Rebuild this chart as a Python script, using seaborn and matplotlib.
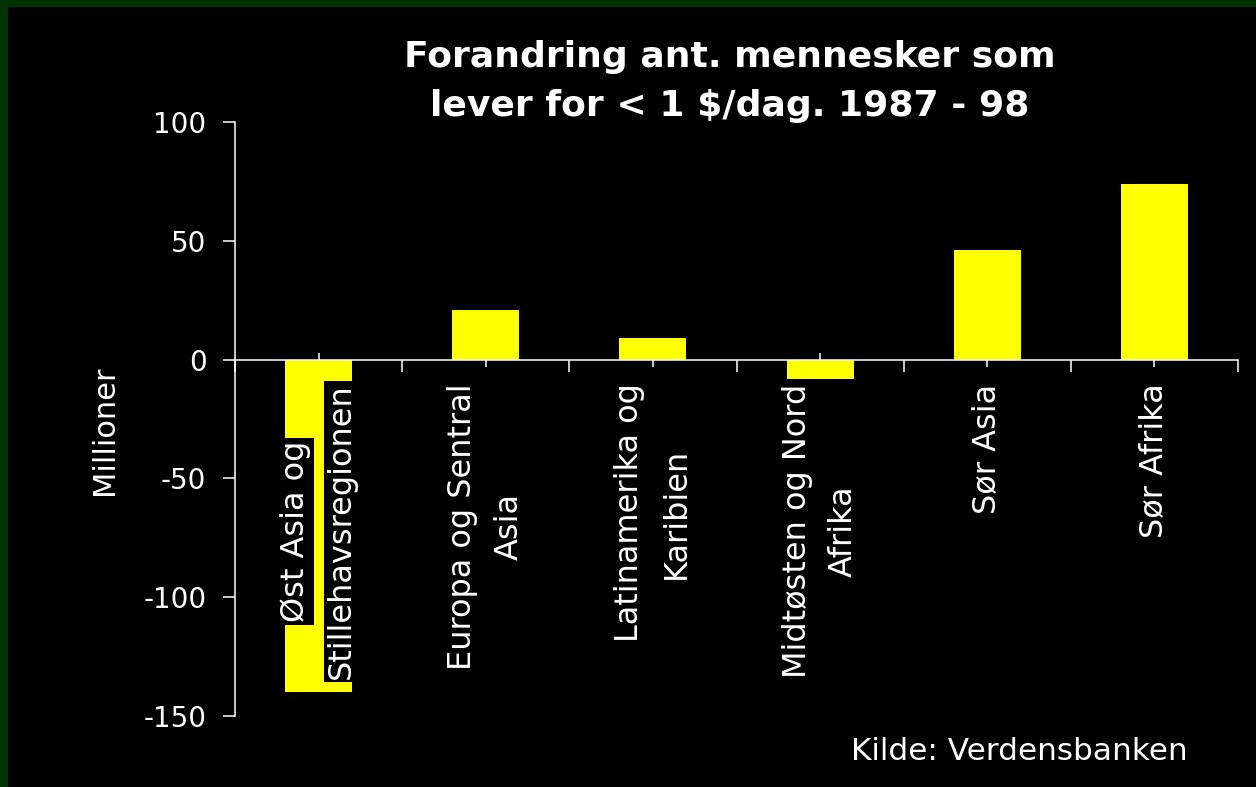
import numpy as np
import pandas as pd
import seaborn as sns
import matplotlib.pyplot as plt
from matplotlib.patches import Rectangle

# data
regions = ["Øst Asia og Stillehavsregionen", "Europa og Sentral Asia", "Latinamerika og Karibien",
           "Midtøsten og Nord Afrika", "Sør Asia", "Sør Afrika"]
label_lines = [["Øst Asia og", "Stillehavsregionen"], ["Europa og Sentral", "Asia"],
               ["Latinamerika og", "Karibien"], ["Midtøsten og Nord", "Afrika"],
               ["Sør Asia"], ["Sør Afrika"]]
change = [-140, 21, 9, -8, 46, 74]
y_ticks = [-150, -100, -50, 0, 50, 100]
y_ticklabels = ["-150", "-100", "-50", "0", "50", "100"]

df = pd.DataFrame({"region": regions, "change": change})

sns.set_style("white")
plt.rcParams["font.family"] = ["DejaVu Sans"]

W, H = 1256, 787
fig = plt.figure(figsize=(W / 100, H / 100), dpi=100, facecolor="#003300")
# black slide area, green strip left and top
fig.add_artist(Rectangle((8 / W, 0), 1, 1 - 7 / H, transform=fig.transFigure,
                         facecolor="black", edgecolor="none", zorder=-1))

ax = fig.add_axes([235 / W, 71 / H, (1238 - 235) / W, (716 - 122) / H])
ax.set_facecolor("none")

sns.barplot(data=df, x="region", y="change", color="#ffff00", saturation=1,
            width=0.4, errorbar=None, edgecolor="none", ax=ax)

ax.set_xlim(-0.5, 5.5)
ax.set_ylim(-150, 100)
ax.set_xlabel("")
ax.set_ylabel("")

for s in ["top", "right"]:
    ax.spines[s].set_visible(False)
for s in ["left", "bottom"]:
    ax.spines[s].set_color("white")
    ax.spines[s].set_linewidth(1.1)
ax.spines["bottom"].set_position(("data", 0))

ax.set_yticks(y_ticks)
ax.set_yticklabels(y_ticklabels)
ax.tick_params(axis="y", colors="white", labelcolor="white", labelsize=20,
               direction="out", length=8.6, width=1.1, pad=12, left=True)

ax.set_xticks(range(len(regions)))
ax.set_xticklabels([])
ax.set_xticks(np.arange(-0.5, len(regions), 1), minor=True)
ax.tick_params(axis="x", which="major", colors="white", direction="inout",
               length=10, width=1.1, bottom=True)
ax.tick_params(axis="x", which="minor", colors="white", direction="out",
               length=8.6, width=1.1, bottom=True)
ax.set_axisbelow(True)

# category labels, one black box per line like the slide
renderer = fig.canvas.get_renderer()
for i, lines in enumerate(label_lines):
    texts = []
    for j, line in enumerate(lines):
        dx = (j - (len(lines) - 1) / 2) * 46
        t = ax.annotate(line, xy=(i, 0), xytext=(dx, 0), textcoords="offset pixels",
                        rotation=90, ha="center", va="center", color="white",
                        fontsize=23, zorder=5,
                        bbox=dict(boxstyle="square,pad=0.08", fc="black", ec="none"))
        texts.append((t, dx))
    longest = max(t.get_window_extent(renderer).height for t, _ in texts)
    for t, dx in texts:
        t.xyann = (dx, -(24 + longest / 2))

fig.text(105 / W, 1 - 430 / H, "Millioner", rotation=90, ha="center", va="center",
         color="white", fontsize=22)

fig.text(730 / W, 1 - 81.5 / H, "Forandring ant. mennesker som\nlever for < 1 $/dag. 1987 - 98",
         ha="center", va="center", color="white", fontsize=26, fontweight="bold",
         linespacing=1.55)

fig.text(1188 / W, 1 - 752 / H, "Kilde: Verdensbanken", ha="right", va="center",
         color="white", fontsize=22.4)

fig.savefig("out.png", dpi=100)
